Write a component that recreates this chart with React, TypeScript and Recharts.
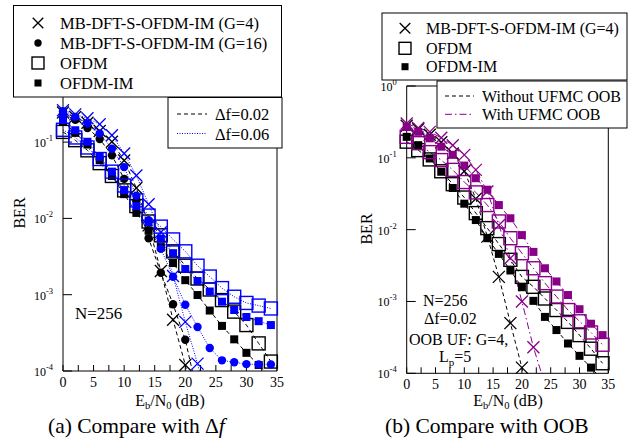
import React from 'react';
import { LineChart, Line, XAxis, YAxis } from 'recharts';

// ---------- data ----------
const snr = [0, 2, 4, 6, 8, 10, 12, 14, 16, 18, 20, 22, 24, 26, 28, 30, 32, 34];
const xTicks = [0, 2.5, 5, 7.5, 10, 12.5, 15, 17.5, 20, 22.5, 25, 27.5, 30, 32.5, 35];
const yTicks = [1e-4, 1e-3, 1e-2, 1e-1, 1];

// (a) Compare with delta f
const a_G4_df002 = [0.244, 0.213, 0.179, 0.14, 0.101, 0.0575, 0.025, 0.0081, 0.00204, 0.00047, 0.00012, 0.00002];
const a_G4_df006 = [0.262, 0.231, 0.205, 0.171, 0.123, 0.071, 0.0365, 0.0153, 0.0066, 0.00176, 0.00044, 0.000125, 0.00003];
const a_G16_df002 = [0.236, 0.196, 0.153, 0.11, 0.067, 0.033, 0.017, 0.0055, 0.00194, 0.00075, 0.000257, 0.00005];
const a_G16_df006 = [0.254, 0.214, 0.175, 0.13, 0.082, 0.047, 0.0198, 0.0095, 0.004, 0.00172, 0.00074, 0.000378, 0.0002, 0.000138, 0.00013, 0.000123, 0.000122, 0.000122];
const a_OFDM_df002 = [0.136, 0.106, 0.078, 0.053, 0.036, 0.0233, 0.0145, 0.0091, 0.006, 0.0037, 0.0024, 0.00163, 0.00117, 0.00085, 0.0006, 0.0004, 0.00023, 0.000133];
const a_OFDM_df006 = [0.145, 0.115, 0.085, 0.06, 0.041, 0.027, 0.0172, 0.0109, 0.0078, 0.0053, 0.0037, 0.0024, 0.00173, 0.00122, 0.00094, 0.00078, 0.00072, 0.00066];
const a_IM_df002 = [0.184, 0.132, 0.093, 0.058, 0.036, 0.0208, 0.0118, 0.0069, 0.0042, 0.0026, 0.00155, 0.00099, 0.00062, 0.00039, 0.00026, 0.000173, 0.00012, 0.00008];
const a_IM_df006 = [0.201, 0.143, 0.101, 0.064, 0.041, 0.0235, 0.0145, 0.0089, 0.0054, 0.0035, 0.00217, 0.00151, 0.0011, 0.00081, 0.00063, 0.00051, 0.00045, 0.0004];

// (b) Compare with OOB
const b_G4_without = [0.28, 0.25, 0.21, 0.165, 0.115, 0.065, 0.027, 0.008, 0.0022, 0.0005, 0.00012, 0.00002];
const b_G4_with = [0.3, 0.26, 0.23, 0.19, 0.15, 0.11, 0.068, 0.034, 0.0115, 0.004, 0.001, 0.00023, 0.00007];
const b_OFDM_without = [0.168, 0.128, 0.095, 0.065, 0.043, 0.028, 0.017, 0.0105, 0.0063, 0.0038, 0.0022, 0.0016, 0.0011, 0.00076, 0.00052, 0.00034, 0.00022, 0.000138];
const b_OFDM_with = [0.196, 0.16, 0.12, 0.093, 0.068, 0.046, 0.033, 0.022, 0.013, 0.0076, 0.0047, 0.0029, 0.0018, 0.00117, 0.00076, 0.00053, 0.00037, 0.00025];
const b_IM_without = [0.196, 0.15, 0.098, 0.064, 0.038, 0.023, 0.0136, 0.0076, 0.0046, 0.0027, 0.00158, 0.00102, 0.00061, 0.0004, 0.00026, 0.000175, 0.00012, 0.00008];
const b_IM_with = [0.27, 0.23, 0.187, 0.143, 0.11, 0.078, 0.052, 0.036, 0.022, 0.0144, 0.0084, 0.0049, 0.0029, 0.0019, 0.00123, 0.00078, 0.00049, 0.00034];

const legendA = ['MB-DFT-S-OFDM-IM (G=4)', 'MB-DFT-S-OFDM-IM (G=16)', 'OFDM', 'OFDM-IM'];
const legendB = ['MB-DFT-S-OFDM-IM (G=4)', 'OFDM', 'OFDM-IM'];

// ---------- styling ----------
const FONT = '"Liberation Serif", "Times New Roman", serif';
const BLUE = '#0000ff';
const PURPLE = '#880088';
const BLACK = '#000000';
const DASH = '4 3';
const DOT = '1 1.5';
const DASHDOT = '7 3 1.5 3';

type Kind = 'x' | 'dot' | 'osq' | 'fsq';
type Pt = { x: number; y: number };

const toPts = (vals: number[]): Pt[] => vals.map((y, i) => ({ x: snr[i], y }));
const inRange = (vals: number[]): Pt[] => toPts(vals).filter((p) => p.y >= 1e-4 * 0.98);

function Marker({ kind, color, cx, cy, s = 1 }: { kind: Kind; color: string; cx: number; cy: number; s?: number }) {
  if (kind === 'x') {
    const h = 6 * s;
    return (
      <g stroke={color} strokeWidth={1.3}>
        <line x1={cx - h} y1={cy - h} x2={cx + h} y2={cy + h} />
        <line x1={cx - h} y1={cy + h} x2={cx + h} y2={cy - h} />
      </g>
    );
  }
  if (kind === 'dot') return <circle cx={cx} cy={cy} r={4.2 * s} fill={color} />;
  if (kind === 'osq') {
    const h = 6.5 * s;
    return <rect x={cx - h} y={cy - h} width={2 * h} height={2 * h} fill="none" stroke={color} strokeWidth={1.4} />;
  }
  const h = 4 * s;
  return <rect x={cx - h} y={cy - h} width={2 * h} height={2 * h} fill={color} />;
}

const makeDot = (kind: Kind, color: string) => (props: any) => {
  const { cx, cy, index } = props;
  if (cx == null || cy == null || isNaN(cx) || isNaN(cy)) return <g key={`d${index}`} />;
  return (
    <g key={`d${index}`}>
      <Marker kind={kind} color={color} cx={cx} cy={cy} />
    </g>
  );
};

const YTick = (props: any) => {
  const { x, y, payload } = props;
  const e = Math.round(Math.log10(payload.value));
  return (
    <text x={x} y={y} dy={5} textAnchor="end" fontFamily={FONT} fontSize={12} fill="#000">
      <tspan>10</tspan>
      <tspan dy={-6} fontSize={8.5}>{e === 0 ? '0' : `-${-e}`}</tspan>
    </text>
  );
};

const XTick = (props: any) => {
  const { x, y, payload } = props;
  const v = payload.value;
  if (v % 5 !== 0) return <g />;
  return (
    <text x={x} y={y} dy={8} textAnchor="middle" fontFamily={FONT} fontSize={14} fill="#000">
      {v}
    </text>
  );
};

type Series = { vals: number[]; kind: Kind; color: string; dash: string };

const seriesA: Series[] = [
  { vals: a_OFDM_df002, kind: 'osq', color: BLACK, dash: DASH },
  { vals: a_IM_df002, kind: 'fsq', color: BLACK, dash: DASH },
  { vals: a_G16_df002, kind: 'dot', color: BLACK, dash: DASH },
  { vals: a_G4_df002, kind: 'x', color: BLACK, dash: DASH },
  { vals: a_OFDM_df006, kind: 'osq', color: BLUE, dash: DOT },
  { vals: a_IM_df006, kind: 'fsq', color: BLUE, dash: DOT },
  { vals: a_G16_df006, kind: 'dot', color: BLUE, dash: DOT },
  { vals: a_G4_df006, kind: 'x', color: BLUE, dash: DOT },
];

const seriesB: Series[] = [
  { vals: b_OFDM_without, kind: 'osq', color: BLACK, dash: DASH },
  { vals: b_IM_without, kind: 'fsq', color: BLACK, dash: DASH },
  { vals: b_G4_without, kind: 'x', color: BLACK, dash: DASH },
  { vals: b_OFDM_with, kind: 'osq', color: PURPLE, dash: DASHDOT },
  { vals: b_IM_with, kind: 'fsq', color: PURPLE, dash: DASHDOT },
  { vals: b_G4_with, kind: 'x', color: PURPLE, dash: DASHDOT },
];

function BerPlot({ series, width, margin }: { series: Series[]; width: number; margin: any }) {
  const groups: React.ReactNode[] = [];
  series.forEach((s, i) => {
    groups.push(
      <Line
        key={`p${i}`}
        data={toPts(s.vals)}
        dataKey="y"
        xAxisId="b"
        yAxisId="c"
        type="linear"
        stroke={s.color}
        strokeWidth={1}
        strokeDasharray={s.dash}
        dot={false}
        activeDot={false}
        isAnimationActive={false}
      />
    );
    groups.push(
      <Line
        key={`m${i}`}
        data={inRange(s.vals)}
        dataKey="y"
        xAxisId="b"
        yAxisId="y"
        type="linear"
        stroke="none"
        dot={makeDot(s.kind, s.color)}
        activeDot={false}
        isAnimationActive={false}
      />
    );
  });
  return (
    <LineChart width={width} height={443} margin={margin}>
      <XAxis xAxisId="b" orientation="bottom" type="number" dataKey="x" domain={[0, 35]} ticks={xTicks} interval={0}
        height={30} tickSize={-6} tickMargin={14} tick={<XTick />} stroke="#000" />
      <XAxis xAxisId="t" orientation="top" type="number" dataKey="x" domain={[0, 35]} ticks={xTicks} interval={0}
        height={1} tickSize={-6} tick={false} stroke="#000" />
      <YAxis yAxisId="y" orientation="left" type="number" scale="log" domain={[1e-4, 1]} ticks={yTicks} interval={0}
        width={40} tickSize={-9} tickMargin={19} tick={<YTick />} stroke="#000" />
      <YAxis yAxisId="r" orientation="right" type="number" scale="log" domain={[1e-4, 1]} ticks={yTicks} interval={0}
        width={1} tickSize={-9} tick={false} stroke="#000" />
      <YAxis yAxisId="c" hide width={0} orientation="left" type="number" scale="log" domain={[1e-4, 1]} allowDataOverflow />
      {groups}
    </LineChart>
  );
}

export default function App() {
  const kindsA: Kind[] = ['x', 'dot', 'osq', 'fsq'];
  const kindsB: Kind[] = ['x', 'osq', 'fsq'];
  const rowsA = [23, 43, 63, 83];
  const rowsB = [28.3, 48.3, 66.7];
  return (
    <div style={{ position: 'absolute', left: 0, top: 0, width: 634, height: 443, background: '#fff', fontFamily: FONT, overflow: 'hidden' }}>
      <div style={{ position: 'absolute', left: 0, top: 0 }}>
        <BerPlot series={seriesA} width={300} margin={{ top: 64.8, right: 22, bottom: 42, left: 23 }} />
      </div>
      <div style={{ position: 'absolute', left: 340, top: 0 }}>
        <BerPlot series={seriesB} width={294} margin={{ top: 85, right: 24.7, bottom: 39.7, left: 26.7 }} />
      </div>
      <svg width={634} height={443} style={{ position: 'absolute', left: 0, top: 0, pointerEvents: 'none' }} fontFamily={FONT}>
        {/* Legend (a) markers */}
        <rect x={13.5} y={5.5} width={268} height={91.5} fill="#fff" stroke="#000" strokeWidth={1} />
        {legendA.map((t, i) => (
          <g key={`la${i}`}>
            <Marker kind={kindsA[i]} color="#000" cx={38} cy={rowsA[i]} s={kindsA[i] === 'osq' ? 0.92 : 0.88} />
            <text x={60} y={rowsA[i] + 5.7} fontSize={16.5} fill="#000">{t}</text>
          </g>
        ))}
        {/* Legend (a) lines */}
        <rect x={168} y={97.5} width={114} height={50.5} fill="#fff" stroke="#000" strokeWidth={1} />
        <line x1={177} y1={114} x2={207} y2={114} stroke="#000" strokeDasharray={DASH} />
        <text x={215} y={120} fontSize={16.5} fill="#000">Δf=0.02</text>
        <line x1={177} y1={133.5} x2={207} y2={133.5} stroke={BLUE} strokeDasharray={DOT} />
        <text x={215} y={140} fontSize={16.5} fill="#000">Δf=0.06</text>

        {/* Legend (b) markers */}
        <rect x={382} y={13} width={245} height={67} fill="#fff" stroke="#000" strokeWidth={1} />
        {legendB.map((t, i) => (
          <g key={`lb${i}`}>
            <Marker kind={kindsB[i]} color="#000" cx={405} cy={rowsB[i]} s={kindsB[i] === 'osq' ? 0.92 : 0.88} />
            <text x={426} y={rowsB[i] + 5.7} fontSize={16} fill="#000">{t}</text>
          </g>
        ))}
        {/* Legend (b) lines */}
        <rect x={437} y={81} width={190} height={47} fill="#fff" stroke="#000" strokeWidth={1} />
        <line x1={445} y1={96} x2={474} y2={96} stroke="#000" strokeDasharray={DASH} />
        <text x={482} y={101.7} fontSize={16} fill="#000">Without UFMC OOB</text>
        <line x1={445} y1={114.3} x2={474} y2={114.3} stroke={PURPLE} strokeDasharray={DASHDOT} />
        <text x={482} y={120} fontSize={16} fill="#000">With UFMC OOB</text>

        {/* axis titles */}
        <text transform="translate(25,213) rotate(-90)" textAnchor="middle" fontSize={16} fill="#000">BER</text>
        <text transform="translate(372,229) rotate(-90)" textAnchor="middle" fontSize={16} fill="#000">BER</text>
        {[170, 508].map((cx, i) => (
          <text key={`xl${i}`} x={cx} y={406} textAnchor="middle" fontSize={16} fill="#000">
            E<tspan fontSize={10.5} dy={3}>b</tspan><tspan dy={-3}>/N</tspan><tspan fontSize={10.5} dy={3}>0</tspan><tspan dy={-3}> (dB)</tspan>
          </text>
        ))}

        {/* annotations */}
        <text x={75} y={319} fontSize={17} fill="#000">N=256</text>
        <text x={423} y={305.5} fontSize={16} fill="#000">N=256</text>
        <text x={424} y={324} fontSize={16} fill="#000">Δf=0.02</text>
        <text x={409} y={345} fontSize={16} fill="#000">OOB UF: G=4,</text>
        <text x={439} y={361.5} fontSize={16} fill="#000">L<tspan fontSize={11} dy={4}>p</tspan><tspan dy={-4}>=5</tspan></text>

        {/* captions */}
        <text x={48} y={433} fontSize={21.5} fill="#000" xmlSpace="preserve">(a) Compare with Δ<tspan fontStyle="italic">f</tspan></text>
        <text x={385} y={433} fontSize={21.5} fill="#000">(b) Compare with OOB</text>
      </svg>
    </div>
  );
}
